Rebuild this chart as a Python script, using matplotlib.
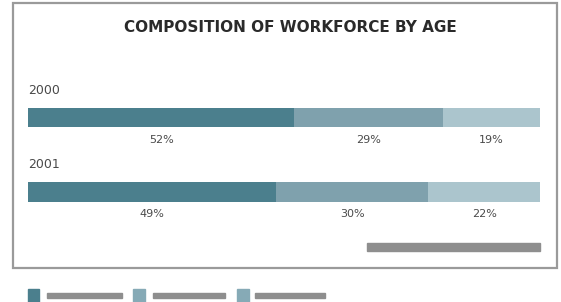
import matplotlib.pyplot as plt
from matplotlib.patches import Rectangle

years = ["2000", "2001"]
shares_2000 = [52, 29, 19]
shares_2001 = [49, 30, 22]
colors = ["#4b7f8d", "#7fa1ad", "#abc5cd"]
legend_colors = ["#4b7f8d", "#86aab6", "#86aab6"]

fig = plt.figure(figsize=(5.61, 3.02), dpi=100)
W, H = 561, 302

def fx(px):
    return px / W

def fy(py):
    return 1 - py / H

# outer frame
fig.patches.append(Rectangle((fx(13), fy(268)), fx(557) - fx(13), fy(3) - fy(268),
                             transform=fig.transFigure, fill=False,
                             edgecolor="#9a9a9a", lw=1.6))

fig.text(fx(290), fy(27), "COMPOSITION OF WORKFORCE BY AGE", ha="center", va="center",
         fontsize=11, fontweight="bold", color="#2a2a2a")

# bar axes: pixel 28..540 horizontally, 100..210 vertically
ax = fig.add_axes([fx(28), fy(210), fx(540) - fx(28), fy(100) - fy(210)])
ax.set_xlim(0, 100)
ax.set_ylim(1.243, -0.243)
ax.axis("off")

rows = [shares_2000, shares_2001]
for i, (year, shares) in enumerate(zip(years, rows)):
    left = 0
    total = sum(shares)
    for j, s in enumerate(shares):
        w = s * 100 / total
        ax.barh(i, w, left=left, height=0.257, color=colors[j], edgecolor="none")
        ax.text(left + w / 2, i + 0.30, f"{s}%", ha="center", va="center",
                fontsize=8, color="#4a4a4a", clip_on=False)
        left += w
    ax.text(0, i - 0.375, year, ha="left", va="center", fontsize=9,
            color="#4a4a4a", clip_on=False)

# redacted source line
fig.patches.append(Rectangle((fx(367), fy(251)), fx(540) - fx(367), fy(243) - fy(251),
                             transform=fig.transFigure, color="#8e8e8e"))

# legend (labels redacted in original)
legend_items = [(28, 39, 47, 122), (133, 145, 153, 225), (237, 249, 255, 325)]
for (s0, s1, b0, b1), c in zip(legend_items, legend_colors):
    fig.patches.append(Rectangle((fx(s0), fy(302)), fx(s1) - fx(s0), fy(289) - fy(302),
                                 transform=fig.transFigure, color=c))
    fig.patches.append(Rectangle((fx(b0), fy(298)), fx(b1) - fx(b0), fy(293) - fy(298),
                                 transform=fig.transFigure, color="#8e8e8e"))

plt.savefig("out.png", dpi=100)
